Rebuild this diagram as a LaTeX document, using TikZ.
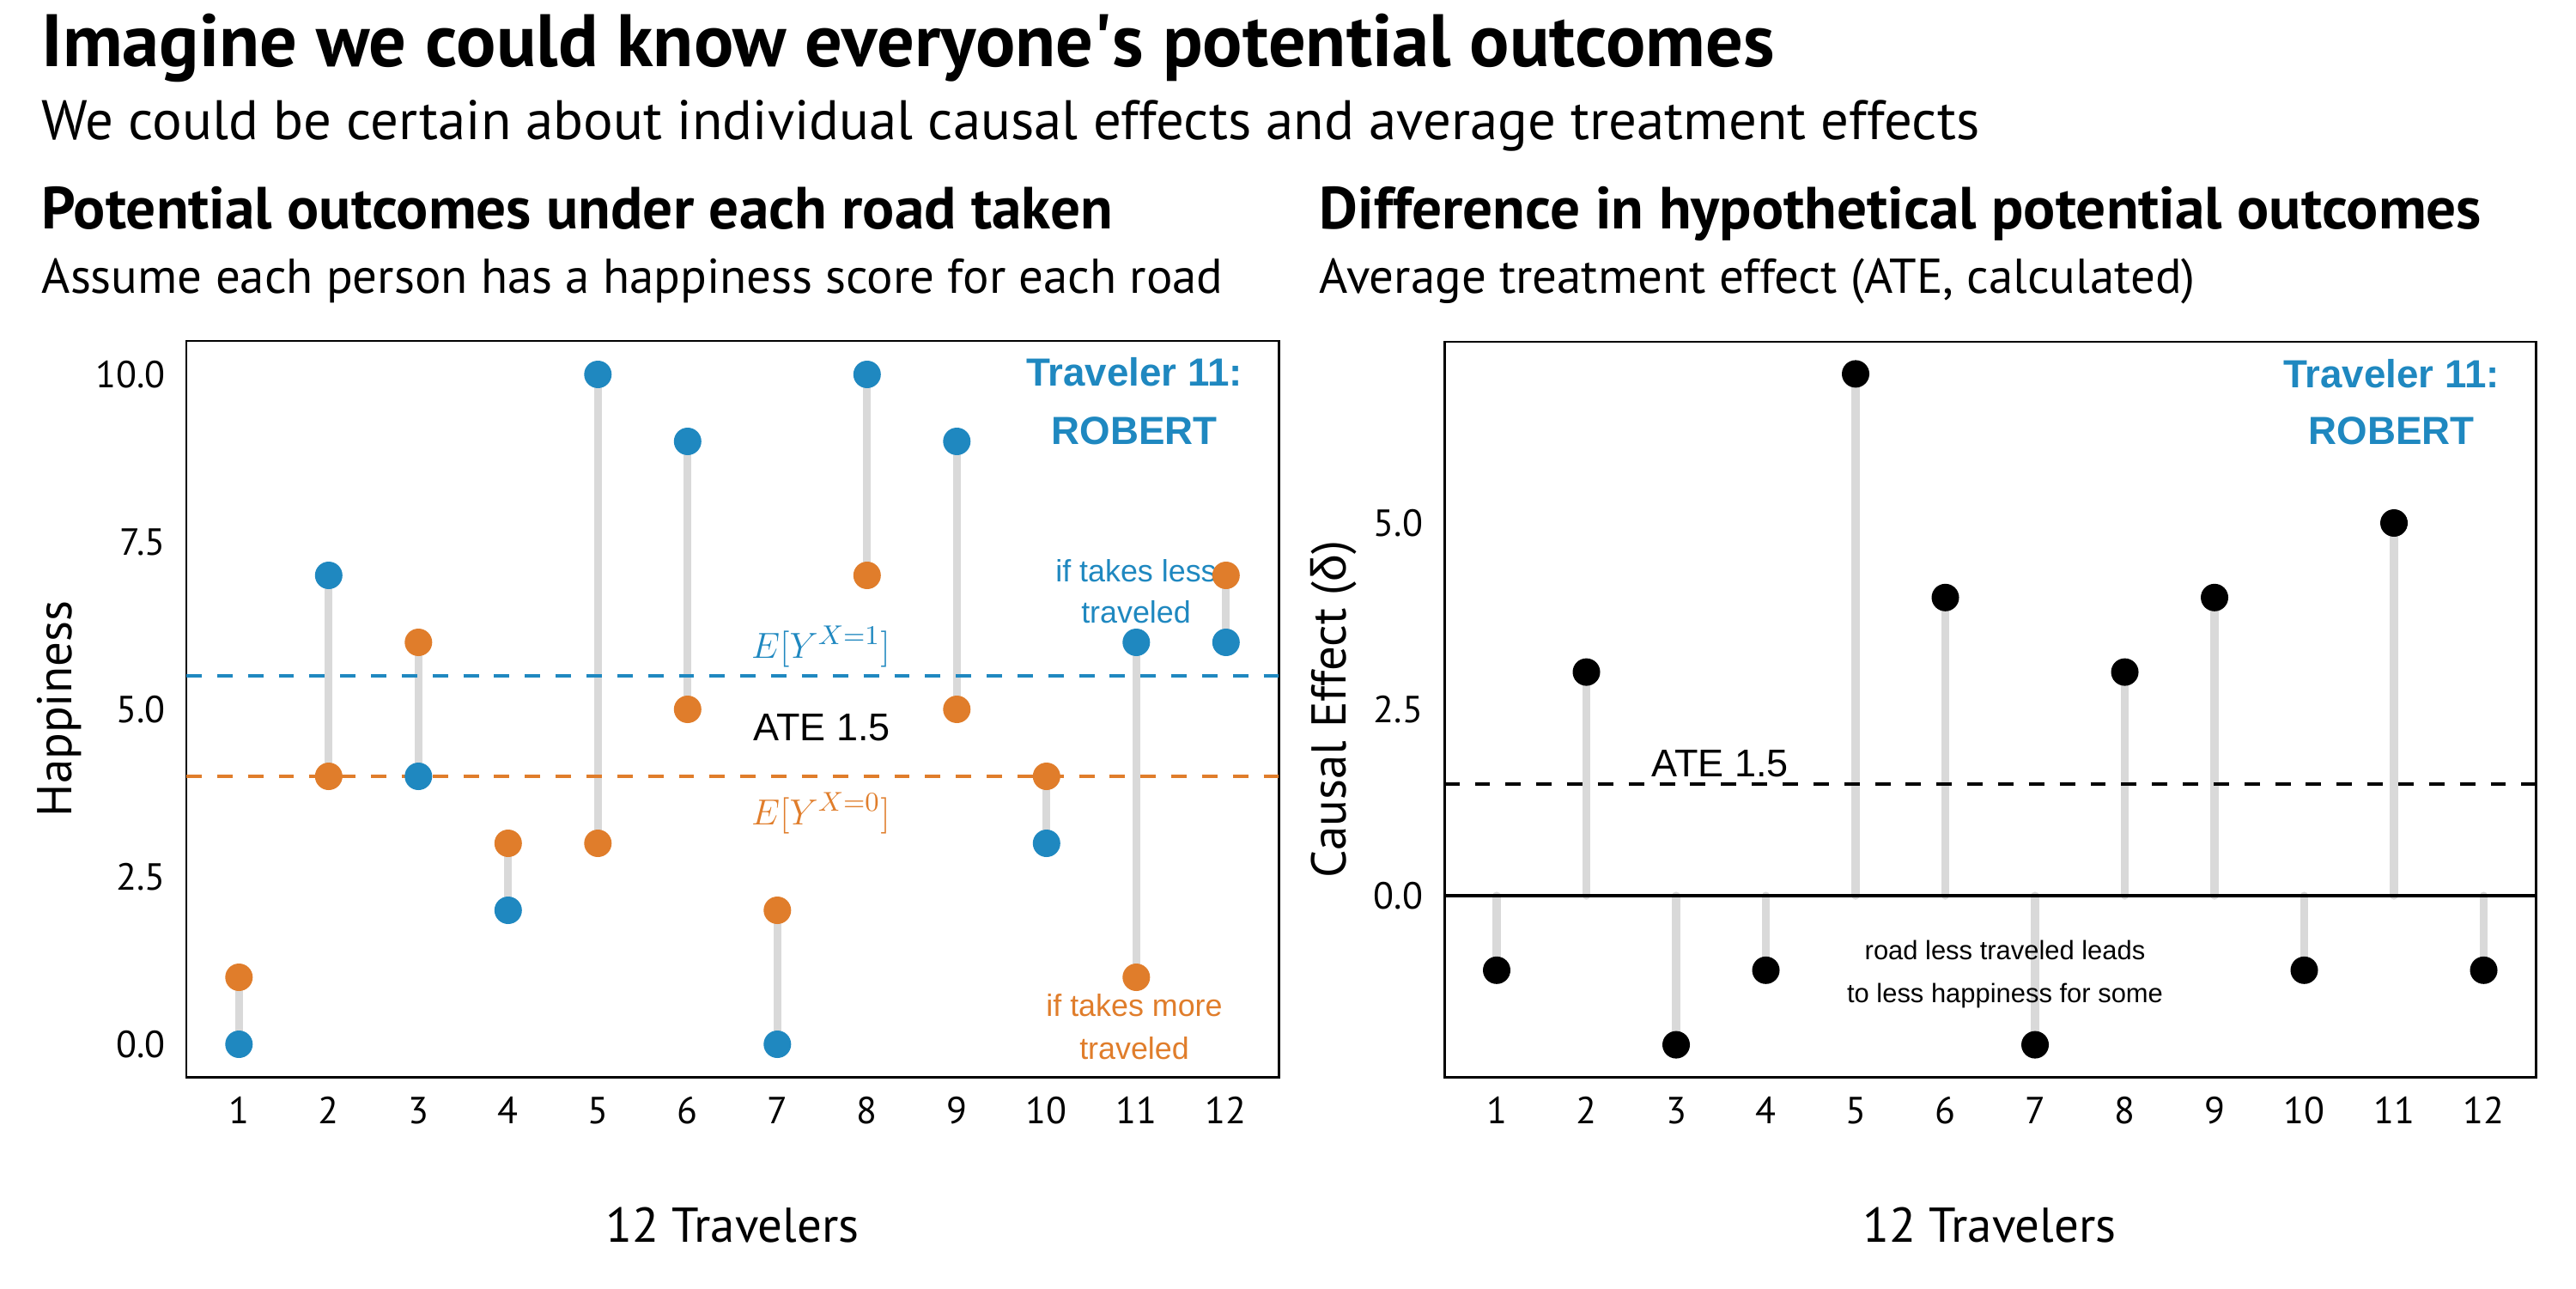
\documentclass[tikz,border=0pt]{standalone}
\usepackage{fontspec}
\usepackage{amsmath}
\setmainfont{PT Sans}
\newfontfamily\arialfont{Liberation Sans}
\usetikzlibrary{positioning}
\definecolor{roadblue}{RGB}{31,136,192}
\definecolor{roadorange}{RGB}{224,125,43}
\definecolor{stemgray}{RGB}{217,217,217}

\begin{document}
\begin{tikzpicture}[
    stem/.style={stemgray, line width=2.6pt, line cap=round},
    bluedot/.style={circle, fill=roadblue, inner sep=0pt, minimum size=0.32cm},
    orangedot/.style={circle, fill=roadorange, inner sep=0pt, minimum size=0.32cm},
    blackdot/.style={circle, fill=black, inner sep=0pt, minimum size=0.32cm},
    meanline/.style={line width=1.4pt, dash pattern=on 5.1pt off 5.1pt},
    ticklabel/.style={font=\fontsize{12.5}{14}\selectfont},
    axistitle/.style={font=\fontsize{16.2}{19}\selectfont},
    note/.style={font=\arialfont\fontsize{10.2}{12}\selectfont, anchor=base},
    ate/.style={font=\arialfont\fontsize{12.8}{15}\selectfont, anchor=base},
    who/.style={font=\arialfont\bfseries\fontsize{13}{15}\selectfont, text=roadblue, anchor=base},
    expect/.style={anchor=base, font=\fontsize{13}{16}\selectfont}
]
    \fill[white] (0,0) rectangle (30,15);
    \useasboundingbox (0,0) rectangle (30,15);

    % titles
    \node[anchor=base west, inner sep=0pt, font=\bfseries\fontsize{24.6}{28}\selectfont] (title) at (0.48,14.22) {Imagine we could know everyone\textquotesingle s potential outcomes};
    \node[anchor=base west, inner sep=0pt, font=\fontsize{18.45}{22}\selectfont] (subtitle) at (0.48,13.37) {We could be certain about individual causal effects and average treatment effects};
    \node[anchor=base west, inner sep=0pt, font=\bfseries\fontsize{19.7}{23}\selectfont] (lefttitle) at (0.48,12.33) {Potential outcomes under each road taken};
    \node[anchor=base west, inner sep=0pt, font=\fontsize{16.2}{19}\selectfont] (leftsub) at (0.48,11.58) {Assume each person has a happiness score for each road};
    \node[anchor=base west, inner sep=0pt, font=\bfseries\fontsize{19.7}{23}\selectfont] (righttitle) at (15.36,12.33) {Difference in hypothetical potential outcomes};
    \node[anchor=base west, inner sep=0pt, font=\fontsize{16.2}{19}\selectfont] (rightsub) at (15.36,11.58) {Average treatment effect (ATE, calculated)};

    % left panel: potential outcomes
    \draw[line width=0.85pt] (2.17,2.46) rectangle (14.89,11.03);
    \begin{scope}[shift={(1.738,2.84)}, x=1.045cm, y=0.78cm]
        \foreach \i/\a/\b in {1/0/1,2/7/4,3/4/6,4/2/3,5/10/3,6/9/5,7/0/2,8/10/7,9/9/5,10/3/4,11/6/1,12/6/7} {
            \coordinate (t\i) at (\i,\a);
            \coordinate (c\i) at (\i,\b);
            \draw[stem] (t\i) -- (c\i);
        }
        \draw[meanline, roadblue] (0.413,5.5) -- (12.586,5.5);
        \draw[meanline, roadorange] (0.413,4) -- (12.586,4);
        \foreach \v in {0.0,2.5,5.0,7.5,10.0}
            \node[ticklabel, anchor=east, inner sep=0pt] (ly\v) at (0.185,\v) {\v};
    \end{scope}
    \foreach \i in {1,...,12}
        \node[ticklabel] (lx\i) at ({1.738+1.045*\i},2.07) {\i};
    \node[axistitle] (lxtitle) at (8.53,0.73) {12 Travelers};
    \node[axistitle, rotate=90] (lytitle) at (0.69,6.745) {Happiness};

    \node[who] (robert1) at (13.21,10.50) {Traveler 11:};
    \node[who] (robert2) at (13.21,9.83) {ROBERT};
    \node[note, text=roadblue] (less1) at (13.23,8.23) {if takes less};
    \node[note, text=roadblue] (less2) at (13.23,7.75) {traveled};
    \node[note, text=roadorange] (more1) at (13.21,3.17) {if takes more};
    \node[note, text=roadorange] (more2) at (13.21,2.67) {traveled};
    \node[expect, text=roadblue] (ey1) at (9.56,7.34) {$E[Y^{X=1}]$};
    \node[ate] (ateleft) at (9.57,6.38) {ATE 1.5};
    \node[expect, text=roadorange] (ey0) at (9.56,5.40) {$E[Y^{X=0}]$};

    \foreach \i in {1,...,12} {
        \node[bluedot] (treat\i) at (t\i) {};
        \node[orangedot] (ctrl\i) at (c\i) {};
    }

    % right panel: causal effects
    \draw[line width=0.85pt] (16.82,2.46) rectangle (29.53,11.02);
    \begin{scope}[shift={(16.385,4.57)}, x=1.045cm, y=0.868cm]
        \foreach \i/\d in {1/-1,2/3,3/-2,4/-1,5/7,6/4,7/-2,8/3,9/4,10/-1,11/5,12/-1} {
            \coordinate (z\i) at (\i,0);
            \coordinate (e\i) at (\i,\d);
            \draw[stem] (z\i) -- (e\i);
        }
        \draw[line width=1.2pt] (0.413,0) -- (12.586,0);
        \draw[meanline, line width=1.2pt, black] (0.413,1.5) -- (12.586,1.5);
        \foreach \v in {0.0,2.5,5.0}
            \node[ticklabel, anchor=east, inner sep=0pt] (ry\v) at (0.185,\v) {\v};
    \end{scope}
    \foreach \i in {1,...,12}
        \node[ticklabel] (rx\i) at ({16.385+1.045*\i},2.07) {\i};
    \node[axistitle] (rxtitle) at (23.17,0.73) {12 Travelers};
    \node[axistitle, rotate=90] (rytitle) at (15.53,6.74) {Causal Effect ({\arialfont δ})};

    \node[who] (robert3) at (27.85,10.49) {Traveler 11:};
    \node[who] (robert4) at (27.85,9.82) {ROBERT};
    \node[ate] (ateright) at (20.03,5.96) {ATE 1.5};
    \node[note, font=\arialfont\fontsize{8.8}{11}\selectfont] (road1) at (23.35,3.83) {road less traveled leads};
    \node[note, font=\arialfont\fontsize{8.8}{11}\selectfont] (road2) at (23.35,3.33) {to less happiness for some};

    \foreach \i in {1,...,12}
        \node[blackdot] (eff\i) at (e\i) {};
\end{tikzpicture}
\end{document}
